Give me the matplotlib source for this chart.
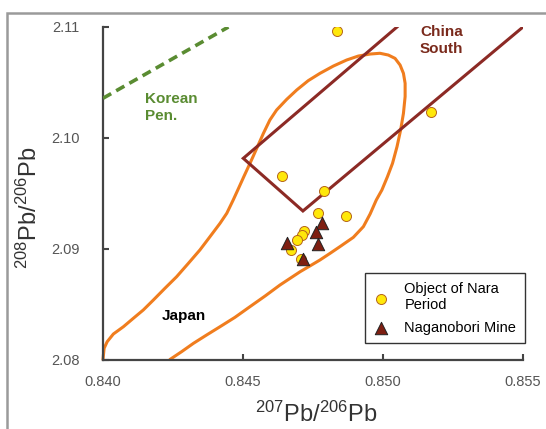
import matplotlib
matplotlib.use("Agg")
import matplotlib.pyplot as plt
from matplotlib.patches import Rectangle

plt.rcParams['font.family'] = ['Liberation Sans', 'DejaVu Sans']
plt.rcParams['mathtext.fontset'] = 'custom'
plt.rcParams['mathtext.rm'] = 'Liberation Sans'

# Lead isotope ratios of Nara-period objects
nara_x = [0.84837, 0.85170, 0.84640, 0.84789, 0.84769, 0.84868,
          0.84719, 0.84710, 0.84694, 0.84670, 0.84706]
nara_y = [2.10964, 2.10236, 2.09656, 2.09523, 2.09325, 2.09295,
          2.09162, 2.09123, 2.09078, 2.08988, 2.08907]

# Naganobori mine ores
mine_x = [0.84781, 0.84760, 0.84767, 0.84656, 0.84715]
mine_y = [2.09234, 2.09153, 2.09042, 2.09048, 2.08907]

# Japan ore field outline (left branch up, over the top, back down)
japan_x = [0.84000, 0.84004, 0.84015, 0.84037, 0.84073, 0.84108, 0.84144,
           0.84180, 0.84221, 0.84263, 0.84305, 0.84346, 0.84382, 0.84418,
           0.84442, 0.84465, 0.84484, 0.84503, 0.84525, 0.84549, 0.84573,
           0.84596, 0.84620, 0.84656, 0.84692, 0.84733, 0.84775, 0.84823,
           0.84870, 0.84912, 0.84954, 0.84989, 0.85019, 0.85043, 0.85061,
           0.85073, 0.85079, 0.85079, 0.85073, 0.85063, 0.85050, 0.85034,
           0.85016, 0.84996, 0.84976, 0.84954, 0.84930, 0.84894, 0.84846,
           0.84811, 0.84775, 0.84739, 0.84704, 0.84632, 0.84579, 0.84525,
           0.84471, 0.84418, 0.84370, 0.84323, 0.84281, 0.84239]
japan_y = [2.08000, 2.08101, 2.08161, 2.08230, 2.08296, 2.08371, 2.08447,
           2.08537, 2.08642, 2.08747, 2.08868, 2.08988, 2.09108, 2.09229,
           2.09319, 2.09439, 2.09544, 2.09650, 2.09770, 2.09905, 2.10041,
           2.10161, 2.10251, 2.10347, 2.10432, 2.10516, 2.10582, 2.10648,
           2.10702, 2.10738, 2.10756, 2.10763, 2.10747, 2.10717, 2.10657,
           2.10582, 2.10492, 2.10372, 2.10221, 2.10071, 2.09920, 2.09770,
           2.09650, 2.09529, 2.09439, 2.09313, 2.09199, 2.09102, 2.09018,
           2.08958, 2.08898, 2.08844, 2.08792, 2.08672, 2.08573, 2.08477,
           2.08380, 2.08296, 2.08221, 2.08146, 2.08071, 2.08000]

# South China field boundary
china_x = [0.85050, 0.84501, 0.84714, 0.85500]
china_y = [2.11000, 2.09815, 2.09340, 2.11000]

# Korean Peninsula line
korea_x = [0.84000, 0.84448]
korea_y = [2.10357, 2.11000]

xticks = [0.840, 0.845, 0.850, 0.855]
yticks = [2.08, 2.09, 2.10, 2.11]

W, H = 546, 429
fig = plt.figure(figsize=(W / 100, H / 100), dpi=100)
ax = fig.add_axes([103 / W, 1 - 359.5 / H, 420 / W, 332.5 / H])

# outer frame of the figure
fig.patches.append(Rectangle((7 / W, -0.1), 1.2, 1 - 13 / H + 0.1,
                             transform=fig.transFigure, fill=False,
                             edgecolor='#9a9a9a', linewidth=1.8, zorder=0))

ax.plot(japan_x, japan_y, color='#F07D1E', lw=2.2, zorder=2,
        solid_joinstyle='round', solid_capstyle='round', clip_on=False)
ax.plot(china_x, china_y, color='#8C2A25', lw=2.2, zorder=3,
        solid_joinstyle='miter')
ax.plot(korea_x, korea_y, color='#5A8C32', lw=2.6, zorder=3,
        linestyle=(0, (2.6, 1.6)))

ax.scatter(nara_x, nara_y, s=52, marker='o', facecolor='#FFE80A',
           edgecolor='#B5651D', linewidth=0.7, zorder=4,
           label='Object of Nara\nPeriod')
ax.scatter(mine_x, mine_y, s=80, marker='^', facecolor='#7E1F12',
           edgecolor='#222222', linewidth=0.7, zorder=5,
           label='Naganobori Mine')

ax.text(0.84150, 2.1041, 'Korean\nPen.', color='#5A8C32', fontsize=11,
        fontweight='bold', ha='left', va='top', linespacing=1.25)
ax.text(0.85132, 2.1102, 'China\nSouth', color='#7A2A1C', fontsize=11,
        fontweight='bold', ha='left', va='top', linespacing=1.25)
ax.text(0.84210, 2.0839, 'Japan', color='black', fontsize=11,
        fontweight='bold', ha='left', va='center')

ax.set_xlim(0.840, 0.855)
ax.set_ylim(2.08, 2.11)
ax.set_xticks(xticks)
ax.set_yticks(yticks)
ax.set_xticklabels([f'{v:.3f}' for v in xticks])
ax.set_yticklabels([f'{v:.2f}' for v in yticks])
ax.tick_params(direction='in', length=4, width=1.5, color='#444444',
               labelsize=10.5, labelcolor='#555555')
ax.tick_params(axis='x', pad=11)
ax.tick_params(axis='y', pad=17)
for side in ('top', 'right'):
    ax.spines[side].set_visible(False)
for side in ('left', 'bottom'):
    ax.spines[side].set_color('#444444')
    ax.spines[side].set_linewidth(1.6)

fig.text(316 / W, 1 - 414 / H, r'$\mathregular{^{207}Pb/^{206}Pb}$',
         fontsize=17, color='#333333', ha='center', va='center')
fig.text(29 / W, 1 - 208 / H, r'$\mathregular{^{208}Pb/^{206}Pb}$',
         fontsize=17, color='#333333', ha='center', va='center', rotation=90)

leg = ax.legend(loc='upper left', bbox_to_anchor=(365 / W, 1 - 273 / H),
                bbox_transform=fig.transFigure, borderaxespad=0,
                fontsize=10.5, frameon=True, fancybox=False,
                edgecolor='black', borderpad=0.6, handlelength=1.0,
                handletextpad=1.1, labelspacing=0.6, scatterpoints=1)
leg.get_frame().set_linewidth(1.0)

fig.savefig('out.png', dpi=100)
